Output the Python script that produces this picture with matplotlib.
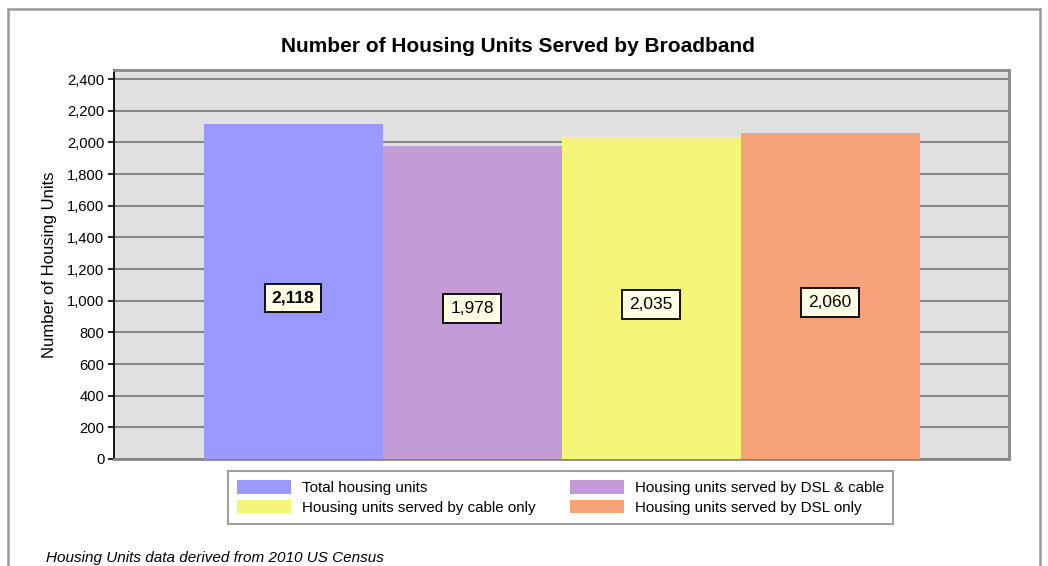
import matplotlib
matplotlib.use("Agg")
import matplotlib.pyplot as plt
from matplotlib.patches import Rectangle, Patch
from matplotlib.ticker import FuncFormatter, MultipleLocator

plt.rcParams['font.family'] = ['Liberation Sans', 'DejaVu Sans']

categories = ["Total housing units",
              "Housing units served by DSL & cable",
              "Housing units served by cable only",
              "Housing units served by DSL only"]
values = [2118, 1978, 2035, 2060]
value_labels = ["2,118", "1,978", "2,035", "2,060"]
colors = ["#9999FF", "#C39BD6", "#F5F57A", "#F5A27A"]

W, H = 1048, 566
fig = plt.figure(figsize=(W / 100, H / 100), dpi=100)

# outer frame
fig.patches.append(Rectangle((8 / W, -0.05), (1040 - 8) / W, 1.05 - 9 / H,
                             transform=fig.transFigure, fill=False,
                             edgecolor="#999999", linewidth=1.8))

ax = fig.add_axes([114 / W, (H - 459) / H, (1009 - 114) / W, (459 - 70) / H])
ax.set_facecolor("#E1E1E1")

x = list(range(len(values)))
ax.bar(x, values, width=1.0, color=colors, zorder=3)

ax.set_xlim(-1.0, 4.0)
ax.set_ylim(0, 2457)
ax.yaxis.set_major_locator(MultipleLocator(200))
ax.yaxis.set_major_formatter(FuncFormatter(lambda v, p: f"{int(v):,}"))
ax.set_xticks([])
ax.grid(axis="y", color="#888888", linewidth=1.5, zorder=1)
ax.tick_params(axis="y", length=4, width=1.2, pad=3, labelsize=10.6, color="black")

for s in ["top", "right", "bottom"]:
    ax.spines[s].set_color("#888888")
    ax.spines[s].set_linewidth(2)
ax.spines["left"].set_color("black")
ax.spines["left"].set_linewidth(1.3)

for i, (v, lab) in enumerate(zip(values, value_labels)):
    ax.text(i, v * 0.48, lab, ha="center", va="center", fontsize=12.5,
            fontweight="bold" if i == 0 else "normal", zorder=5,
            bbox=dict(boxstyle="square,pad=0.4", facecolor="#FFFFE6",
                      edgecolor="black", linewidth=1.3))

fig.text(518 / W, 1 - 46 / H, "Number of Housing Units Served by Broadband",
         ha="center", va="center", fontsize=15, fontweight="bold")
fig.text(50 / W, 1 - 265 / H, "Number of Housing Units", rotation=90,
         ha="center", va="center", fontsize=12)

order = [0, 2, 1, 3]
handles = [Patch(facecolor=colors[i], edgecolor="none", label=categories[i]) for i in order]
leg = fig.legend(handles=handles, ncol=2, loc="center",
                 bbox_to_anchor=(560.5 / W, 1 - 497.5 / H), fontsize=10.9,
                 frameon=True, fancybox=False, edgecolor="#888888",
                 handlelength=3.55, handleheight=0.95, handletextpad=0.72,
                 columnspacing=2.3, labelspacing=0.3, borderpad=0.62)
leg.get_frame().set_linewidth(1.5)

fig.text(46 / W, 1 - 558 / H, "Housing Units data derived from 2010 US Census",
         ha="left", va="center", fontsize=11, style="italic")

fig.savefig("out.png", dpi=100)
